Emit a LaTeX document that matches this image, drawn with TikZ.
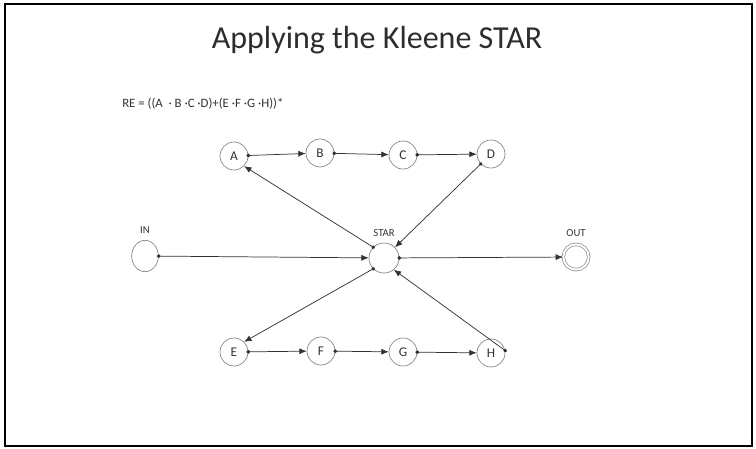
\documentclass[tikz,border=0pt]{standalone}
\usepackage{fontspec}
\setmainfont{Carlito}
\usetikzlibrary{arrows.meta}
\usetikzlibrary{positioning}
\usetikzlibrary{shapes.geometric}
\definecolor{stategray}{RGB}{130,130,130}
\definecolor{linegray}{RGB}{50,50,50}
\definecolor{titlegray}{RGB}{45,45,45}

\begin{document}
\begin{tikzpicture}[x=0.75pt, y=-0.75pt, node distance=1pt,
    trans/.style={{Circle[length=2.8pt]}-{Latex[length=5.5pt,width=4.5pt]},
    shorten <=-1.4pt, draw=linegray, line width=0.55pt},
    state/.style={circle, draw=stategray, line width=0.5pt, minimum size=21pt,
    inner sep=0pt, text=linegray, font=\fontsize{10}{11}\selectfont},
    tag/.style={text=linegray, font=\fontsize{8}{9}\selectfont}]

    \useasboundingbox (0,0) rectangle (756,449);
    \draw[line width=1.2pt] (5,4) rectangle (752,446);

    \node[anchor=base, text=titlegray] (title) at (377,49) {\fontsize{24}{28}\selectfont Applying the Kleene STAR};
    \node[anchor=base west, inner sep=0pt, text=linegray, font=\fontsize{9.6}{11}\selectfont] (re) at (122,108)
        {RE = ((A ~·~B ·C ·D)+(E ·F ·G ·H))*};

    % the star state and its loops
    \node[state, minimum size=22.5pt] (STAR) at (384,258) {};
    \node[tag] (starlbl) [above=of STAR] {STAR};

    \node[state] (A) at (234,156) {A};
    \node[state] (B) at (320,153) {B};
    \node[state] (C) at (403,155) {C};
    \node[state] (D) at (491,154) {D};

    \node[state] (E) at (234,352) {E};
    \node[state] (F) at (321,351) {F};
    \node[state] (G) at (403,352) {G};
    \node[state] (H) at (491,353) {H};

    % entry and exit
    \node[state, ellipse, minimum width=20pt, minimum height=23.5pt] (IN) at (145,256) {};
    \node[tag] (inlbl) [above=of IN] {IN};
    \node[state, double, double distance=1.5pt, minimum size=19pt] (OUT) at (576,257) {};
    \node[tag] (outlbl) [above=2pt of OUT] {OUT};

    \draw[trans] (A) -- (B);
    \draw[trans] (B) -- (C);
    \draw[trans] (C) -- (D);
    \draw[trans] (D) -- (STAR);
    \draw[trans] (STAR.135) -- (A.-45);

    \draw[trans] (STAR.225) -- (E.45);
    \draw[trans] (E) -- (F);
    \draw[trans] (F) -- (G);
    \draw[trans] (G) -- (H);
    \draw[trans] (H.10) -- (STAR.-50);

    \draw[trans] (IN) -- (STAR);
    \draw[trans] (STAR) -- (OUT);
\end{tikzpicture}
\end{document}
